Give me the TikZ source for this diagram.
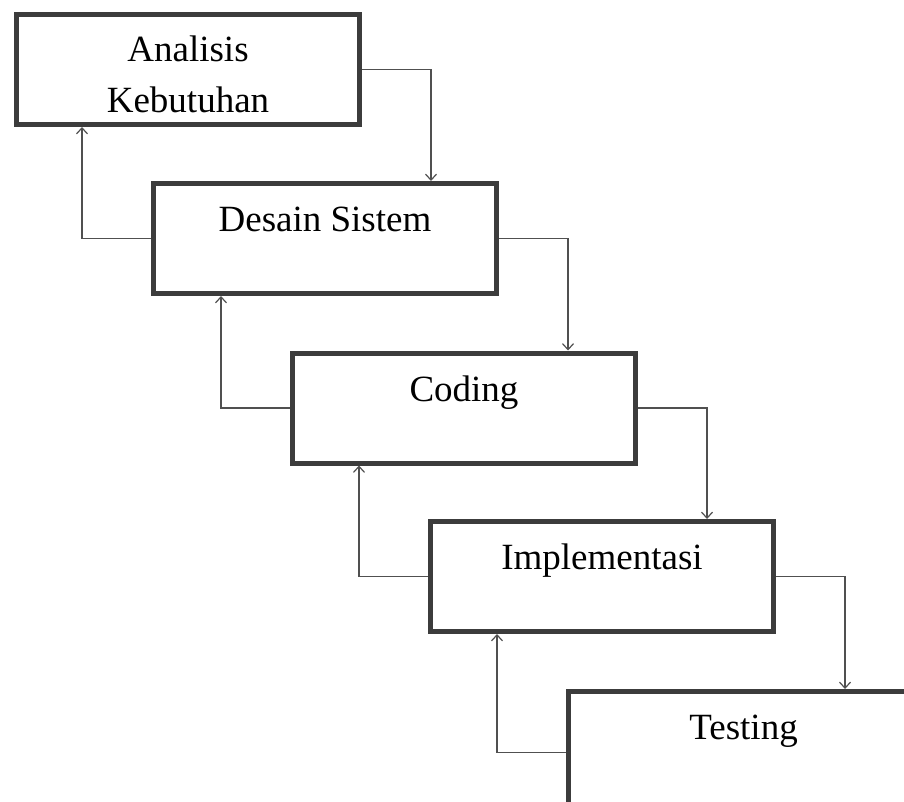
\documentclass[tikz,border=0pt]{standalone}
\usepackage{fontspec}
\setmainfont{Liberation Serif}
\usetikzlibrary{arrows.meta}
\definecolor{garis}{HTML}{3C3C3C}
\definecolor{panah}{HTML}{505050}
\begin{document}
\begin{tikzpicture}[
        x=1pt, y=-1pt, % koordinat dalam piksel, sumbu y ke bawah
        tahap/.style = {draw=garis, line width=5pt, minimum width=343pt,
                inner sep=0pt, text height=48pt, text depth=62pt,
                align=center, font=\fontsize{37}{51}\selectfont}, % kotak tahap
        alur/.style = {draw=panah, line width=1.5pt,
                -{Straight Barb[length=6pt, width=11pt, line width=1.2pt]}},
    ]
    \clip (0,0) rectangle (904,801);

    \node[tahap, text height=97.5pt, text depth=12.5pt] (analisis) at (188,69.5) {Analisis\\Kebutuhan};
    \node[tahap] (desain) at (325,238.5) {Desain Sistem};
    \node[tahap] (coding) at (464,408) {Coding};
    \node[tahap] (implementasi) at (602,576.5) {Implementasi};
    % kotak terakhir terpotong di tepi gambar
    \node[tahap, minimum width=350pt, text depth=74pt] (testing) at (743.5,752.5) {Testing};

    % panah turun dan panah balik
    \foreach \atas/\bawah in {analisis/desain, desain/coding, coding/implementasi, implementasi/testing} {
        \draw[alur] (\atas.east) -| ([xshift=69pt]\atas.east |- \bawah.north);
        \draw[alur] (\bawah.west) -| ([xshift=-69pt]\bawah.west |- \atas.south);
    }
\end{tikzpicture}
\end{document}
